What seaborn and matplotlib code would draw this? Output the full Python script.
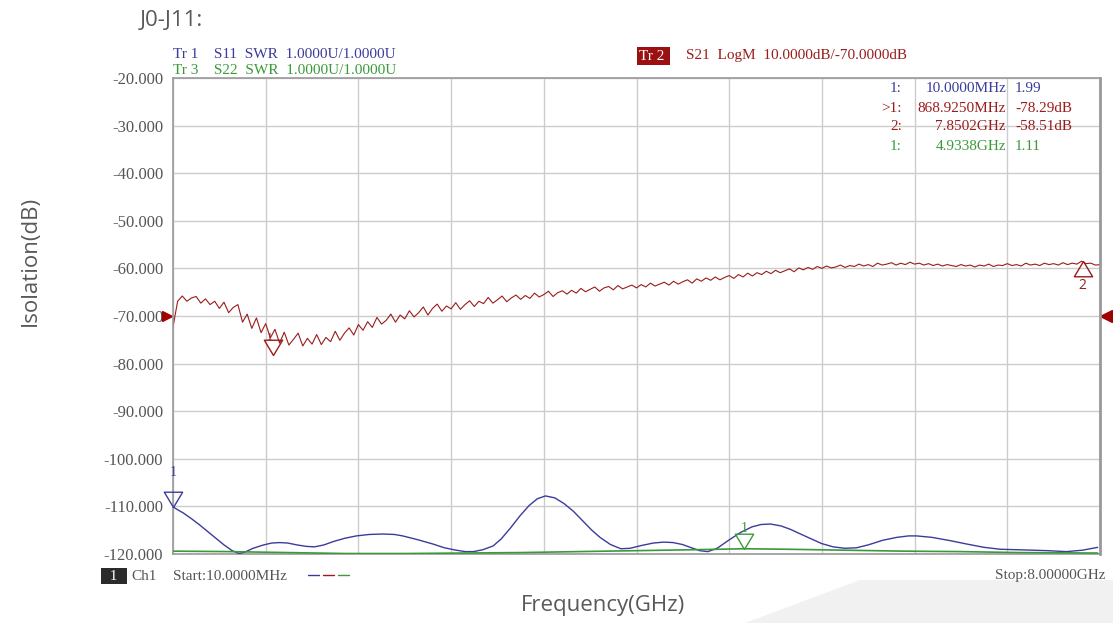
import numpy as np
import pandas as pd
import seaborn as sns
import matplotlib.pyplot as plt
from matplotlib.path import Path
from matplotlib.patches import Polygon
from matplotlib.lines import Line2D
import matplotlib.transforms as mtransforms

# sweep settings of the analyser
start_ghz = 0.01
stop_ghz = 8.0

# S21 (isolation) trace, dB
s21_db = [
    -72.3, -66.9, -65.8, -66.9, -66.2, -65.9, -67.3, -66.4, -67.6, -66.9,
    -68.4, -67.1, -69.3, -68.2, -67.6, -71.3, -69.6, -72.6, -70.4, -73.5,
    -71.6, -74.6, -72.8, -75.7, -73.4, -76.1, -74.9, -73.6, -76.3, -74.7,
    -75.9, -73.9, -76.0, -74.5, -75.4, -73.2, -75.1, -73.6, -72.5, -74.0,
    -71.8, -73.0, -71.2, -72.4, -70.3, -71.7, -70.9, -69.6, -71.3, -69.8,
    -70.6, -68.9, -70.2, -69.3, -68.1, -69.8, -68.4, -67.5, -69.0, -67.9,
    -68.5, -67.2, -68.6, -67.6, -66.8, -68.0, -66.9, -67.4, -66.1, -67.3,
    -66.6, -65.8, -67.0, -66.2, -65.6, -66.5, -65.7, -66.3, -65.2, -66.0,
    -65.5, -64.8, -65.9, -65.1, -64.7, -65.4, -64.6, -65.2, -64.2, -64.9,
    -64.4, -63.9, -64.8, -64.1, -63.8, -64.5, -63.6, -64.3, -63.9, -63.5,
    -64.1, -63.4, -63.9, -63.1, -63.7, -63.3, -62.9, -63.5, -62.7, -63.3,
    -62.8, -62.4, -63.1, -62.2, -62.7, -62.0, -62.5, -61.8, -62.4, -61.9,
    -61.5, -62.1, -61.3, -61.8, -61.0, -61.6, -60.9, -61.3, -60.6, -61.1,
    -60.4, -60.9, -60.5, -60.1, -60.7, -59.9, -60.3, -59.8, -60.2, -59.6,
    -60.0, -59.5, -59.9, -59.7, -59.3, -59.8, -59.4, -59.6, -59.1, -59.5,
    -59.2, -59.6, -58.9, -59.3, -59.1, -58.8, -59.3, -58.9, -59.2, -58.7,
    -59.1, -58.9, -59.3, -59.0, -59.4, -59.1, -59.5, -59.2, -59.4, -59.6,
    -59.2, -59.5, -59.3, -59.7, -59.3, -59.5, -59.1, -59.6, -59.3, -59.4,
    -59.0, -59.4, -59.2, -59.5, -58.9, -59.3, -59.1, -59.4, -58.9, -59.2,
    -59.0, -59.3, -58.8, -59.2, -58.9, -59.1, -58.5, -59.0, -58.9, -59.3,
    -59.2,
]
s21_freq = np.linspace(start_ghz, stop_ghz, len(s21_db))

# S11 SWR trace (blue)
s11_freq = [0.01, 0.05, 0.10, 0.17, 0.24, 0.31, 0.38, 0.45, 0.52, 0.58,
            0.63, 0.70, 0.79, 0.86, 0.93, 1.00, 1.08, 1.16, 1.23, 1.31,
            1.39, 1.49, 1.59, 1.70, 1.82, 1.92, 1.99, 2.12, 2.25, 2.35,
            2.45, 2.53, 2.60, 2.68, 2.77, 2.84, 2.92, 3.00, 3.08, 3.15,
            3.22, 3.30, 3.38, 3.46, 3.54, 3.62, 3.69, 3.78, 3.87, 3.95,
            4.05, 4.15, 4.24, 4.32, 4.40, 4.48, 4.55, 4.62, 4.70, 4.80,
            4.90, 5.00, 5.08, 5.16, 5.25, 5.33, 5.41, 5.50, 5.60, 5.70,
            5.80, 5.90, 6.00, 6.13, 6.25, 6.35, 6.42, 6.55, 6.71, 6.85,
            7.00, 7.14, 7.28, 7.42, 7.55, 7.71, 7.85, 7.98]
s11_swr = [1.99, 1.93, 1.86, 1.74, 1.61, 1.47, 1.33, 1.19, 1.07, 1.01,
           1.04, 1.12, 1.19, 1.23, 1.24, 1.23, 1.19, 1.16, 1.15, 1.19,
           1.26, 1.33, 1.38, 1.41, 1.42, 1.41, 1.38, 1.30, 1.21, 1.13,
           1.08, 1.05, 1.05, 1.09, 1.17, 1.32, 1.55, 1.80, 2.02, 2.16,
           2.22, 2.18, 2.06, 1.90, 1.70, 1.50, 1.35, 1.20, 1.11, 1.12,
           1.18, 1.23, 1.25, 1.24, 1.20, 1.13, 1.07, 1.05, 1.12, 1.29,
           1.45, 1.57, 1.62, 1.63, 1.59, 1.52, 1.43, 1.33, 1.22, 1.15,
           1.12, 1.13, 1.19, 1.29, 1.35, 1.38, 1.38, 1.35, 1.28, 1.21,
           1.14, 1.10, 1.09, 1.08, 1.07, 1.05, 1.08, 1.14]

# S22 SWR trace (green)
s22_freq = [0.01, 0.5, 1.0, 1.5, 2.0, 2.5, 3.0, 3.5, 4.0, 4.5, 4.93,
            5.3, 5.8, 6.3, 6.8, 7.3, 7.98]
s22_swr = [1.06, 1.05, 1.03, 1.01, 1.01, 1.02, 1.03, 1.05, 1.07, 1.09, 1.11,
           1.10, 1.08, 1.06, 1.05, 1.03, 1.02]

y_ticks = list(range(-20, -121, -10))

# marker table
mk_labels = ["1:", ">1:", "2:", "1:"]
mk_freqs = ["10.0000MHz", "868.9250MHz", "7.8502GHz", "4.9338GHz"]
mk_vals = ["1.99", "-78.29dB", "-58.51dB", "1.11"]

BLUE = "#3b3b9b"
RED = "#9a1c1c"
GREEN = "#3a9a3a"
GRAY = "#555555"
MONO = "Liberation Serif"
SANS = "Open Sans"
FS = 11

sns.set_style("white")
plt.rcParams["font.family"] = ["Open Sans", "DejaVu Sans"]

fig = plt.figure(figsize=(11.13, 6.23), dpi=100)
W, H = 1113, 623

def fx(px):
    return px / W

def fy(py):
    return 1 - py / H

# light decorative patch bottom right
fig.patches.append(Polygon([(fx(745), fy(623)), (fx(860), fy(580)), (1, fy(580)), (1, 0)],
                           closed=True, transform=fig.transFigure, facecolor="#f1f1f1",
                           edgecolor="none", zorder=0))

ax = fig.add_axes([fx(173), fy(554), fx(1100) - fx(173), fy(78) - fy(554)])
ax.set_facecolor("none")

df21 = pd.DataFrame({"f": s21_freq, "db": s21_db})
sns.lineplot(data=df21, x="f", y="db", ax=ax, color=RED, linewidth=0.8, estimator=None)

ax.set_xlim(start_ghz, stop_ghz)
ax.set_ylim(-120, -20)
ax.set_xticks(np.linspace(start_ghz, stop_ghz, 11))
ax.set_xticklabels([])
ax.set_yticks(y_ticks)
ax.set_yticklabels([f"{v:.3f}" for v in y_ticks], fontfamily=MONO, fontsize=12, color=GRAY)
ax.tick_params(axis="both", length=0, pad=7)
ax.grid(True, color="#cccccc", linewidth=1)
ax.set_xlabel("")
ax.set_ylabel("")
for side in ["top", "bottom", "left"]:
    ax.spines[side].set_color("#999999")
    ax.spines[side].set_linewidth(1.2)
ax.spines["right"].set_color("#999999")
ax.spines["right"].set_linewidth(2)

# SWR traces on their own scale: 1 U/div, reference 1 U at bottom
ax2 = ax.twinx()
df11 = pd.DataFrame({"f": s11_freq, "swr": s11_swr})
df22 = pd.DataFrame({"f": s22_freq, "swr": s22_swr})
sns.lineplot(data=df11, x="f", y="swr", ax=ax2, color=BLUE, linewidth=1.0, estimator=None)
sns.lineplot(data=df22, x="f", y="swr", ax=ax2, color=GREEN, linewidth=1.2, estimator=None)
ax2.set_ylim(1, 11)
ax2.set_xlim(start_ghz, stop_ghz)
ax2.set_yticks([])
ax2.set_ylabel("")
for s in ax2.spines.values():
    s.set_visible(False)

# marker glyphs: apex at the data point
tri_down = Path([(-0.6, 1), (0.6, 1), (0, 0), (-0.6, 1)],
                [Path.MOVETO, Path.LINETO, Path.LINETO, Path.CLOSEPOLY])
tri_up = Path([(-0.6, -1), (0.6, -1), (0, 0), (-0.6, -1)],
              [Path.MOVETO, Path.LINETO, Path.LINETO, Path.CLOSEPOLY])

ax2.plot([0.01], [1.99], marker=tri_down, ms=22, mfc="none", mec=BLUE, mew=1, clip_on=False)
ax2.annotate("1", (0.01, 1.99), xytext=(0, 20), textcoords="offset points", ha="center",
             va="bottom", color=BLUE, fontsize=10, fontfamily=MONO, annotation_clip=False)
ax2.plot([4.9338], [1.11], marker=tri_down, ms=22, mfc="none", mec=GREEN, mew=1)
ax2.annotate("1", (4.9338, 1.11), xytext=(0, 10), textcoords="offset points", ha="center",
             va="bottom", color=GREEN, fontsize=10, fontfamily=MONO)
ax.plot([0.8689], [-78.29], marker=tri_down, ms=22, mfc="none", mec=RED, mew=1)
ax.annotate("1", (0.8689, -78.29), xytext=(-2, 10), textcoords="offset points", ha="center",
            va="bottom", color=RED, fontsize=8, fontfamily=MONO)
ax.plot([7.8502], [-58.51], marker=tri_up, ms=22, mfc="none", mec=RED, mew=1)
ax.annotate("2", (7.8502, -58.51), xytext=(0, -12), textcoords="offset points", ha="center",
            va="top", color=RED, fontsize=10, fontfamily=SANS)

# reference position arrows at -70 dB
trans = mtransforms.blended_transform_factory(ax.transAxes, ax.transData)
ax.plot([-0.006], [-70], marker=">", ms=7, color="#a00000", transform=trans, clip_on=False)
ax.plot([1.007], [-70], marker="<", ms=9, color="#a00000", transform=trans, clip_on=False)

# header texts
fig.text(fx(173), fy(55), "Tr 1    S11  SWR  1.0000U/1.0000U", color=BLUE, fontfamily=MONO,
         fontsize=FS, va="center")
fig.text(fx(173), fy(70), "Tr 3    S22  SWR  1.0000U/1.0000U", color=GREEN, fontfamily=MONO,
         fontsize=FS, va="center")
fig.text(fx(639), fy(56), "Tr 2 ", color="white", fontfamily=MONO, fontsize=FS, va="center",
         bbox=dict(facecolor="#9b1010", edgecolor="none", pad=1.5))
fig.text(fx(686), fy(56), "S21  LogM  10.0000dB/-70.0000dB", color=RED, fontfamily=MONO,
         fontsize=FS, va="center")

row_colors = [BLUE, RED, RED, GREEN]
row_y = [89, 108, 127, 146]
for lab, fr, val, c, yy in zip(mk_labels, mk_freqs, mk_vals, row_colors, row_y):
    fig.text(fx(902), fy(yy), lab, color=c, fontfamily=MONO, fontsize=FS, ha="right", va="center")
    fig.text(fx(1006), fy(yy), fr, color=c, fontfamily=MONO, fontsize=FS, ha="right", va="center")
    fig.text(fx(1015), fy(yy), val, color=c, fontfamily=MONO, fontsize=FS, ha="left", va="center")

# footer
fig.text(fx(102), fy(576), "  1  ", color="white", fontfamily=MONO, fontsize=FS, va="center",
         bbox=dict(facecolor="#2b2b2b", edgecolor="none", pad=1.0))
fig.text(fx(131), fy(576), "Ch1", color=GRAY, fontfamily=MONO, fontsize=FS, va="center")
fig.text(fx(173), fy(576), "Start:10.0000MHz", color=GRAY, fontfamily=MONO, fontsize=FS, va="center")
fig.text(fx(1105), fy(576), "Stop:8.00000GHz", color=GRAY, fontfamily=MONO, fontsize=FS,
         ha="right", va="center")
for x0, c in [(308, BLUE), (323, RED), (338, GREEN)]:
    fig.add_artist(Line2D([fx(x0), fx(x0 + 11)], [fy(575), fy(575)], color=c, lw=1,
                          transform=fig.transFigure))

# titles
fig.text(fx(140), fy(20), "J0-J11:", color="#595959", fontfamily=SANS, fontsize=16, va="center")
fig.text(fx(30), fy(261), "Isolation(dB)", color="#595959", fontfamily=SANS, fontsize=16,
         rotation=90, ha="center", va="center")
fig.text(fx(603), fy(606), "Frequency(GHz)", color="#595959", fontfamily=SANS, fontsize=16,
         ha="center", va="center")

fig.savefig("out.png", dpi=100)
